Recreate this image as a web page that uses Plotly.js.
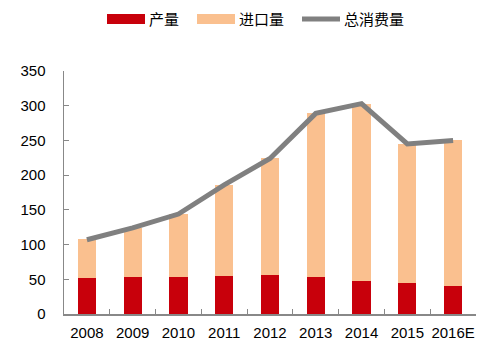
<!DOCTYPE html>
<html>
<head>
<meta charset="utf-8">
<script src="https://cdn.plot.ly/plotly-3.0.1.min.js"></script>
<style>
html,body{margin:0;padding:0;background:#fff;}
#chart{width:502px;height:351px;}
</style>
</head>
<body>
<div id="chart"></div>
<script>
var years = ["2008","2009","2010","2011","2012","2013","2014","2015","2016E"];
var production = [52, 53, 54, 55, 56, 53, 48, 45, 40];
var imports = [56, 71, 90, 131, 169, 237, 255, 200, 210];
var consumption = [107, 124, 144, 186, 224, 289, 303, 245, 250];
var seriesNames = ["产量", "进口量", "总消费量"];

var FONT = "'Liberation Sans', Arial, 'Noto Sans CJK SC', sans-serif";
var RED = "rgb(200,0,11)";
var PEACH = "rgb(250,192,143)";
var GRAY = "rgb(128,128,128)";

var traces = [
  {type:"bar", x:years, y:production, name:seriesNames[0], marker:{color:RED}, showlegend:false, hoverinfo:"y"},
  {type:"bar", x:years, y:imports, name:seriesNames[1], marker:{color:PEACH}, showlegend:false, hoverinfo:"y"},
  {type:"scatter", mode:"lines", x:years, y:consumption, name:seriesNames[2], line:{color:GRAY, width:5}, showlegend:false}
];

function px2x(p){ return (p-64)/412; }
function py2y(p){ return (314-p)/243; }

var layout = {
  width:502, height:351,
  margin:{l:64, r:26, t:71, b:37},
  paper_bgcolor:"#fff", plot_bgcolor:"#fff",
  barmode:"stack", bargap:0.6,
  font:{family:FONT, size:15, color:"#000"},
  showlegend:false,
  xaxis:{
    type:"category", showline:true, linecolor:"#888", linewidth:1.5,
    ticks:"inside", ticklen:5, tickcolor:"#888", tickson:"boundaries",
    showgrid:false, zeroline:false, tickangle:0, tickfont:{family:FONT, size:15, color:"#000"},
    ticklabelstandoff:4
  },
  yaxis:{
    range:[0,350], dtick:50, showline:true, linecolor:"#888", linewidth:1.5,
    ticks:"inside", ticklen:5, tickcolor:"#888",
    showgrid:false, zeroline:false, tickfont:{family:FONT, size:15, color:"#000"},
    ticklabelstandoff:14
  },
  shapes:[
    {type:"rect", xref:"paper", yref:"paper", x0:px2x(107), x1:px2x(145), y0:py2y(24), y1:py2y(14), fillcolor:RED, line:{width:0}},
    {type:"rect", xref:"paper", yref:"paper", x0:px2x(197), x1:px2x(235), y0:py2y(24), y1:py2y(14), fillcolor:PEACH, line:{width:0}},
    {type:"line", xref:"paper", yref:"paper", x0:px2x(302), x1:px2x(340), y0:py2y(19), y1:py2y(19), line:{color:GRAY, width:5}}
  ],
  annotations:[
    {xref:"paper", yref:"paper", x:px2x(147), y:py2y(19), xanchor:"left", yanchor:"middle", text:seriesNames[0], showarrow:false, font:{family:FONT,size:15,color:"#000"}},
    {xref:"paper", yref:"paper", x:px2x(237), y:py2y(19), xanchor:"left", yanchor:"middle", text:seriesNames[1], showarrow:false, font:{family:FONT,size:15,color:"#000"}},
    {xref:"paper", yref:"paper", x:px2x(342), y:py2y(19), xanchor:"left", yanchor:"middle", text:seriesNames[2], showarrow:false, font:{family:FONT,size:15,color:"#000"}}
  ]
};

Plotly.newPlot("chart", traces, layout, {displayModeBar:false, staticPlot:true});
</script>
</body>
</html>
